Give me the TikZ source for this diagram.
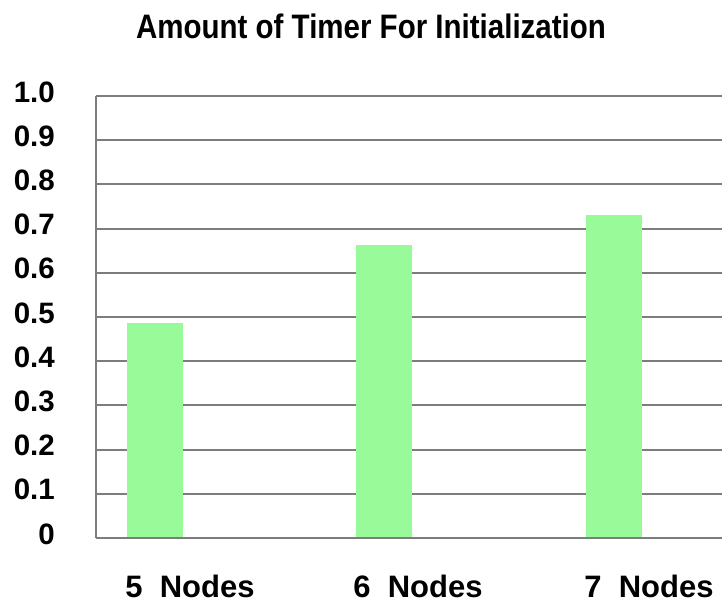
\documentclass[tikz,border=0pt]{standalone}
\usepackage{fontspec}
\setmainfont{Liberation Sans}
\definecolor{bargreen}{RGB}{152,250,152}
\definecolor{gridgray}{RGB}{125,125,125}
\begin{document}
\begin{tikzpicture}[x=1pt, y=1pt,
  gridline/.style={draw=gridgray, line width=2pt},
  bar/.style={fill=bargreen, draw=none},
  lbl/.style={font=\fontsize{29.5}{29.5}\selectfont\bfseries},
  cat/.style={font=\fontsize{31}{31}\selectfont\bfseries, anchor=base, inner sep=1pt}]
  \useasboundingbox[fill=white] (0,0) rectangle (722,603);
  % Titel
  \node[lbl, anchor=base, yscale=1.15] (title) at (371,564) {Amount of Timer For Initialization};
  % Gitter und y-Werte
  \foreach \i/\t in {0/0, 1/0.1, 2/0.2, 3/0.3, 4/0.4, 5/0.5, 6/0.6, 7/0.7, 8/0.8, 9/0.9, 10/1.0} {
    \draw[gridline] (96,{65+44.2*\i}) -- (722,{65+44.2*\i});
    \node[lbl, anchor=east, inner sep=0pt] (y\i) at (55,{69+44.2*\i}) {\t};
  }
  \draw[gridline] (96,65) -- (96,507);   % y-Achse
  % Balken
  \fill[bar] (127,65) rectangle (183,{65+442*0.486});
  \fill[bar] (356,65) rectangle (412,{65+442*0.664});
  \fill[bar] (586,65) rectangle (642,{65+442*0.730});
  \draw[gridline] (96,65) -- (722,65);   % x-Achse
  % Kategorien
  \node[cat] (n5) at (190,6) {5~~Nodes};
  \node[cat] (n6) at (418,6) {6~~Nodes};
  \node[cat] (n7) at (649,6) {7~~Nodes};
\end{tikzpicture}
\end{document}
